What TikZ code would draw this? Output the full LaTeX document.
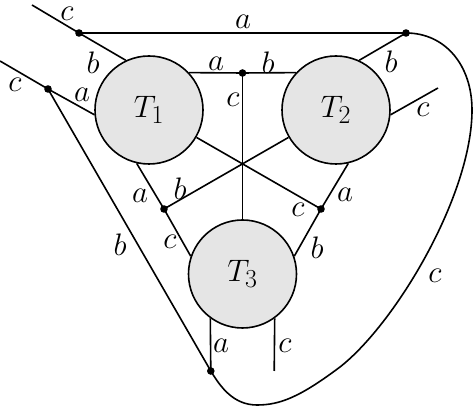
\documentclass[tikz,border=0pt]{standalone}
\begin{document}
\begin{tikzpicture}[x=0.8pt,y=-0.8pt, line width=1.28pt,
  tensor/.style={circle, draw, fill=gray!20, minimum size=86.4pt, inner sep=0pt, font=\fontsize{24.88}{30}\selectfont},
  lbl/.style={inner sep=0pt, font=\fontsize{24.88}{30}\selectfont}]
\useasboundingbox (0,0) rectangle (473,407);
% tensors
\node[tensor] (T1) at (149,110) {$T_1$};
\node[tensor] (T2) at (336,110) {$T_2$};
\node[tensor] (T3) at (242.5,274) {$T_3$};
% junctions and free ends
\coordinate (dA) at (79,33);
\coordinate (dB) at (406,33);
\coordinate (dC) at (48,89);
\coordinate (dM) at (242.5,73);
\coordinate (dL) at (164,209);
\coordinate (dR) at (321,209);
\coordinate (dBot) at (210.8,371);
\coordinate (e1) at (32,5);
\coordinate (e2) at (0,61);
\coordinate (e3) at (438,88);
\coordinate (e4) at (274.2,371);
% lines
\draw (e1) -- (dA) -- (T1.115);
\draw (dA) -- (dB);
\draw (dB) -- (T2.65);
\draw (e2) -- (dC) -- (T1.185);
\draw (dC) -- (dBot);
\draw (T1.43) -- (dM) -- (T2.137);
\draw (dM) -- (T3.90);
\draw (T1.330) -- (dR);
\draw (T2.210) -- (dL);
\draw (T1.257) -- (dL) -- (T3.161);
\draw (T2.283) -- (dR) -- (T3.19);
\draw (T3.234) -- (dBot);
\draw (T3.306) -- (e4);
\draw (T2.355) -- (e3);
\draw (dB) .. controls (445,33) and (472,65) .. (472,110)
  .. controls (472,195) and (396,323) .. (340,367)
  .. controls (300,397) and (280,405) .. (257,405)
  .. controls (234,405) and (221,388) .. (dBot);
% dots
\foreach \p in {dA,dB,dC,dM,dL,dR,dBot} \fill (\p) circle (3.04pt);
% labels
\node[lbl] (l1) at (67,14) {$c$};
\node[lbl] (l2) at (243,22) {$a$};
\node[lbl] (l3) at (93,63) {$b$};
\node[lbl] (l4) at (15,85) {$c$};
\node[lbl] (l5) at (82,95) {$a$};
\node[lbl] (l6) at (216,64) {$a$};
\node[lbl] (l7) at (268,63) {$b$};
\node[lbl] (l8) at (233,100) {$c$};
\node[lbl] (l9) at (391,62) {$b$};
\node[lbl] (l10) at (423,110) {$c$};
\node[lbl] (l11) at (140,196) {$a$};
\node[lbl] (l12) at (180,189) {$b$};
\node[lbl] (l13) at (170,242) {$c$};
\node[lbl] (l14) at (298,210) {$c$};
\node[lbl] (l15) at (345,195) {$a$};
\node[lbl] (l16) at (317,248) {$b$};
\node[lbl] (l17) at (120,245) {$b$};
\node[lbl] (l18) at (221,346) {$a$};
\node[lbl] (l19) at (285,346) {$c$};
\node[lbl] (l20) at (435,276) {$c$};
\end{tikzpicture}
\end{document}
